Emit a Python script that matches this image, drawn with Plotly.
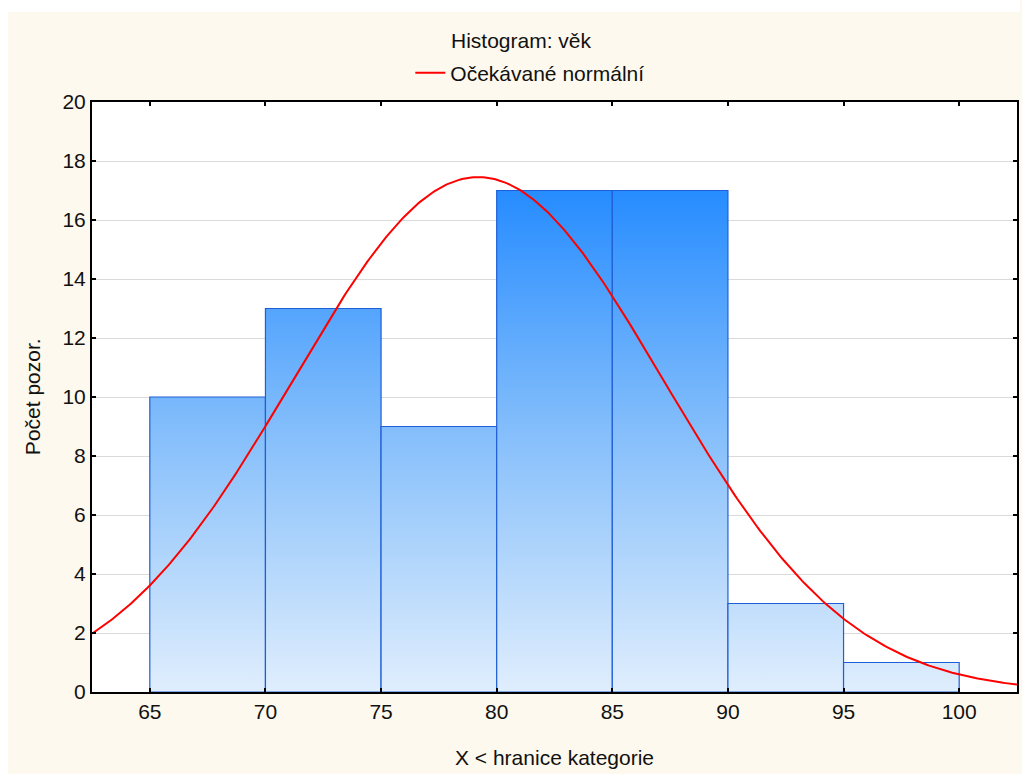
import math
import plotly.graph_objects as go

# Histogram bins (lower edge, upper edge) and observed counts
bin_lo = [65, 70, 75, 80, 85, 90, 95]
bin_hi = [70, 75, 80, 85, 90, 95, 100]
counts = [10, 13, 9, 17, 17, 3, 1]

# Parameters of the expected normal curve
n_obs = sum(counts)
bin_width = 5
mu = 79.2
sigma = 8.0

x_ticks = [65, 70, 75, 80, 85, 90, 95, 100]
y_ticks = [0, 2, 4, 6, 8, 10, 12, 14, 16, 18, 20]
x_range = [62.5, 102.5]
y_range = [0, 20]

FONT = "Liberation Sans, Arial, sans-serif"
FS = 21
TXT = "#111111"
CREAM = "#FEF9EE"

fig = go.Figure()

# Bars as filled polygons with a vertical gradient in axis coordinates
for lo, hi, c in zip(bin_lo, bin_hi, counts):
    fig.add_trace(go.Scatter(
        x=[lo, lo, hi, hi, lo],
        y=[0, c, c, 0, 0],
        mode="lines",
        fill="toself",
        fillgradient=dict(
            type="vertical",
            colorscale=[[0, "#E0EEFD"], [0.5, "#88C0FB"], [1, "#268CFF"]],
            start=0,
            stop=17,
        ),
        line=dict(color="#1F5FD6", width=1.2),
        showlegend=False,
        hoverinfo="skip",
    ))

# Expected normal curve scaled to counts
steps = 400
xs = [x_range[0] + (x_range[1] - x_range[0]) * i / steps for i in range(steps + 1)]
scale = n_obs * bin_width / (sigma * math.sqrt(2 * math.pi))
ys = [scale * math.exp(-0.5 * ((x - mu) / sigma) ** 2) for x in xs]
fig.add_trace(go.Scatter(
    x=xs, y=ys, mode="lines",
    line=dict(color="#FF0000", width=2),
    name="Očekávané normální",
))

# Pixel helpers for placement in paper coordinates
L, R, T, B = 92, 1019, 102, 692


def px(x):
    return (x - L) / (R - L)


def py(y):
    return (B - y) / (B - T)


fig.update_layout(
    width=1022, height=774,
    margin=dict(l=L, r=1022 - R, t=T, b=774 - B),
    paper_bgcolor=CREAM,
    plot_bgcolor="white",
    font=dict(family=FONT, size=FS, color=TXT),
    showlegend=True,
    legend=dict(
        orientation="h",
        x=px(411), xanchor="left",
        y=py(73), yanchor="middle",
        bgcolor="rgba(0,0,0,0)",
        font=dict(family=FONT, size=FS, color=TXT),
    ),
    xaxis=dict(
        range=x_range, tickvals=x_ticks, ticktext=[str(v) for v in x_ticks],
        showgrid=False, zeroline=False,
        showline=True, linecolor="black", linewidth=2, mirror="ticks",
        ticks="inside", ticklen=4, tickwidth=2, tickcolor="black",
        tickfont=dict(family=FONT, size=FS, color=TXT),
    ),
    yaxis=dict(
        range=y_range, tickvals=y_ticks,
        showgrid=True, gridcolor="#DADADA", gridwidth=1, zeroline=False,
        showline=True, linecolor="black", linewidth=2, mirror="ticks",
        ticks="inside", ticklen=4, tickwidth=2, tickcolor="black",
        tickfont=dict(family=FONT, size=FS, color=TXT),
    ),
    shapes=[
        # white strips along the top and left edge of the page
        dict(type="rect", xref="paper", yref="paper",
             x0=px(0), x1=px(1022), y0=py(12), y1=py(0),
             fillcolor="white", line=dict(width=0), layer="below"),
        dict(type="rect", xref="paper", yref="paper",
             x0=px(0), x1=px(8), y0=py(774), y1=py(0),
             fillcolor="white", line=dict(width=0), layer="below"),
    ],
    annotations=[
        dict(text="Histogram: věk", xref="paper", yref="paper",
             x=px(522), y=py(40), xanchor="center", yanchor="middle",
             showarrow=False, font=dict(family=FONT, size=FS, color=TXT)),
        dict(text="X < hranice kategorie", xref="paper", yref="paper",
             x=px(555), y=py(757), xanchor="center", yanchor="middle",
             showarrow=False, font=dict(family=FONT, size=FS, color=TXT)),
        dict(text="Počet pozor.", xref="paper", yref="paper",
             x=px(32), y=py(397), xanchor="center", yanchor="middle",
             textangle=-90,
             showarrow=False, font=dict(family=FONT, size=FS, color=TXT)),
    ],
)

fig.write_html("out.html")
